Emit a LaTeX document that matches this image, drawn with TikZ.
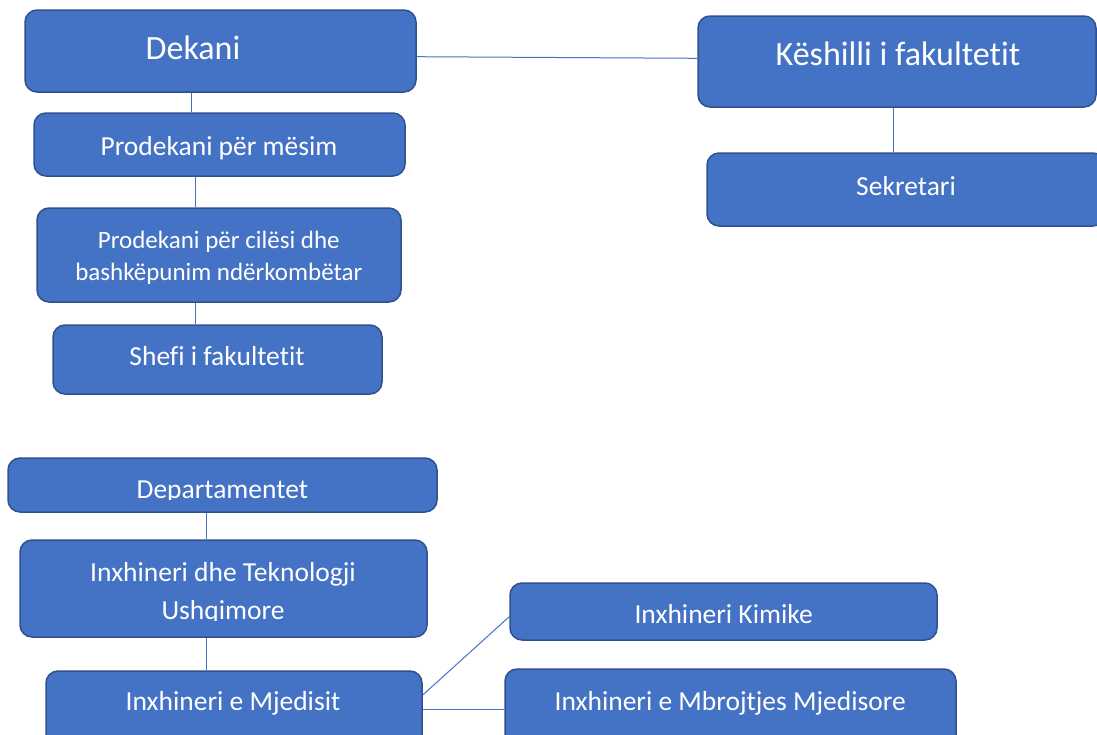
\documentclass[tikz,border=0pt]{standalone}
\usepackage{fontspec}
\setmainfont{Carlito}[RawFeature={-liga;-clig;-calt;-dlig}]
\usetikzlibrary{calc}
\definecolor{boxfill}{HTML}{4472C4}
\definecolor{boxline}{HTML}{2F528F}
\definecolor{connc}{HTML}{4472C4}
\begin{document}
\begin{tikzpicture}[x=1pt,y=-1pt,
  orgbox/.style={draw=boxline, fill=boxfill, line width=1.5pt, rounded corners=12pt, inner sep=0pt},
  lbl/.style={text=white, inner sep=0pt, anchor=base, font=\fontsize{27.5}{33}\selectfont},
  biglbl/.style={lbl, font=\fontsize{34}{40}\selectfont},
  connline/.style={draw=connc, line width=1pt}]
\clip (0,0) rectangle (1097,734);
% boxes
\node[orgbox, minimum width=391pt, minimum height=82pt] (dek) at (220.5,51) {};
\node[orgbox, minimum width=398pt, minimum height=91pt] (kes) at (897,61.5) {};
\node[orgbox, minimum width=398pt, minimum height=73pt] (sek) at (906,189.5) {};
\node[orgbox, minimum width=371pt, minimum height=63pt] (pm) at (219.5,144.5) {};
\node[orgbox, minimum width=364pt, minimum height=94pt] (pc) at (219,255) {};
\node[orgbox, minimum width=329pt, minimum height=69pt] (shefi) at (217.5,359.5) {};
\node[orgbox, minimum width=429pt, minimum height=54pt] (dep) at (222.5,485) {};
\node[orgbox, minimum width=407pt, minimum height=97pt] (ush) at (223.5,588.5) {};
\node[orgbox, minimum width=376pt, minimum height=77pt] (mjed) at (234,709.5) {};
\node[orgbox, minimum width=427pt, minimum height=57pt] (kim) at (723.5,611.5) {};
\node[orgbox, minimum width=451pt, minimum height=80pt] (mbr) at (730.5,709) {};
% labels
\node[biglbl] (dek-t) at (193,59.3) {Dekani};
\node[biglbl] (kes-t) at (898,65) {Këshilli i fakultetit};
\node[lbl] (sek-t) at (906,195) {Sekretari};
\node[lbl] (pm-t) at (219,155) {Prodekani për mësim};
\node[lbl, font=\fontsize{25}{32}\selectfont] (pc-t1) at (218.8,248.7) {Prodekani për cilësi dhe};
\node[lbl, font=\fontsize{25}{32}\selectfont] (pc-t2) at (218.8,280.7) {bashkëpunim ndërkombëtar};
\node[lbl] (shefi-t) at (217,365.7) {Shefi i fakultetit};
\begin{scope}
\clip (0,0) rectangle (1097,499.3);
\node[lbl] (dep-t) at (222.3,498.3) {Departamentet};
\end{scope}
\node[lbl] (ush-t1) at (223,581.7) {Inxhineri dhe Teknologji};
\begin{scope}
\clip (0,560) rectangle (1097,620);
\node[lbl] (ush-t2) at (223,619) {Ushqimore};
\end{scope}
\node[lbl] (mjed-t) at (233,710.7) {Inxhineri e Mjedisit};
\node[lbl] (kim-t) at (723.6,623.3) {Inxhineri Kimike};
\node[lbl] (mbr-t) at (730.2,710) {Inxhineri e Mbrojtjes Mjedisore};
% connectors
\draw[connline] ([yshift=-5.7pt]dek.east) -- ([yshift=3.2pt]kes.west);
\draw[connline] ([xshift=-28.8pt]dek.south) -- ([xshift=-28.8pt]dek.south |- pm.north);
\draw[connline] ([xshift=-24.5pt]pm.south) -- ([xshift=-24.5pt]pm.south |- pc.north);
\draw[connline] ([xshift=-24pt]pc.south) -- ([xshift=-24pt]pc.south |- shefi.north);
\draw[connline] ([xshift=-3.7pt]kes.south) -- ([xshift=-3.7pt]kes.south |- sek.north);
\draw[connline] ([xshift=-15.8pt]dep.south) -- ([xshift=-15.8pt]dep.south |- ush.north);
\draw[connline] ([xshift=-16.8pt]ush.south) -- ([xshift=-16.8pt]ush.south |- mjed.north);
\draw[connline] ([yshift=14.5pt]mjed.east) -- ([yshift=-5.2pt]kim.west);
\draw[connline] (mjed.east) -- (mjed.east -| mbr.west);
\end{tikzpicture}
\end{document}
